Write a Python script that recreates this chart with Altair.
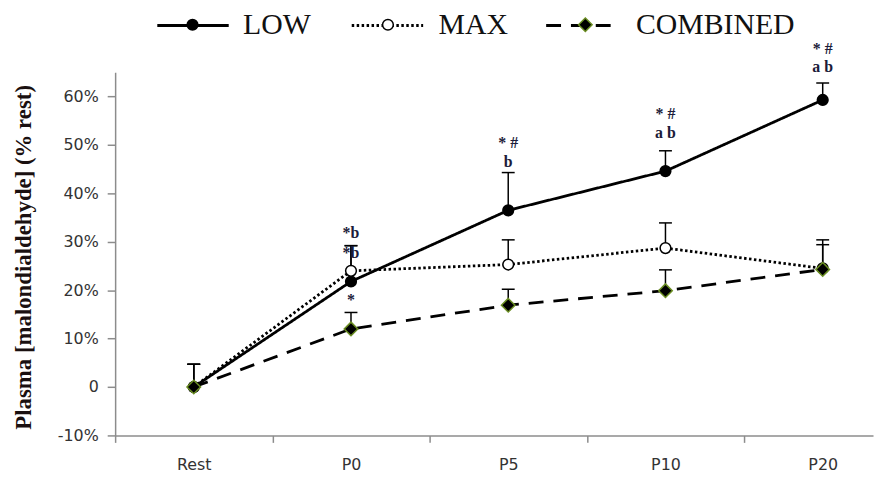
import altair as alt
import pandas as pd

categories = ["Rest", "P0", "P5", "P10", "P20"]
series_names = ["LOW", "MAX", "COMBINED"]

low_values = [0.0, 21.8, 36.5, 44.6, 59.3]
low_errors = [4.7, 7.4, 7.8, 4.2, 3.5]
max_values = [0.0, 24.0, 25.3, 28.7, 24.5]
max_errors = [4.7, 5.2, 5.1, 5.2, 5.9]
combined_values = [0.0, 12.0, 16.9, 19.9, 24.3]
combined_errors = [4.7, 3.4, 3.3, 4.3, 5.1]

y_ticks = [-10, 0, 10, 20, 30, 40, 50, 60]

annotation_cat = ["P0", "P0", "P0", "P5", "P5", "P10", "P10", "P20", "P20"]
annotation_y = [31.9, 27.6, 17.9, 50.5, 46.4, 56.4, 52.4, 69.8, 66.0]
annotation_text = ["*b", "*b", "*", "* #", "b", "* #", "a b", "* #", "a b"]

rows = []
for name, vals, errs in [("LOW", low_values, low_errors),
                         ("MAX", max_values, max_errors),
                         ("COMBINED", combined_values, combined_errors)]:
    for i, c in enumerate(categories):
        rows.append({"idx": i, "cat": c, "series": name, "series2": name,
                     "value": vals[i], "top": vals[i] + errs[i]})
df = pd.DataFrame(rows)

ann = pd.DataFrame({"idx": [categories.index(c) for c in annotation_cat],
                    "value": annotation_y, "text": annotation_text})

cat_js = "[" + ",".join("'" + c + "'" for c in categories) + "]"
x_tick_values = [-0.5, 0, 0.5, 1, 1.5, 2, 2.5, 3, 3.5, 4]

xscale = alt.Scale(domain=[-0.5, 4.32], nice=False, zero=False)
yscale = alt.Scale(domain=[-10, 65], nice=False, zero=False)

axis_col = "#8c8c8c"
xaxis = alt.Axis(values=x_tick_values,
                 labelExpr="datum.value % 1 === 0 ? " + cat_js + "[datum.value] : ''",
                 tickOpacity={"condition": {"test": "datum.value % 1 === 0", "value": 0}, "value": 1},
                 domainColor=axis_col, domainWidth=1.5, tickColor=axis_col, tickWidth=1.5,
                 tickSize=7, labelPadding=14, labelFont="DejaVu Sans", labelFontSize=16,
                 labelColor="#333333", labelFlush=False, labelOverlap=False, grid=False)
yaxis = alt.Axis(values=y_ticks,
                 labelExpr="datum.value === 0 ? '0' : datum.value + '%'",
                 domainColor=axis_col, domainWidth=1.5, tickColor=axis_col, tickWidth=1.5,
                 tickSize=8, labelPadding=9, labelFont="DejaVu Sans", labelFontSize=16,
                 labelColor="#333333", labelFlush=False, labelOverlap=False, grid=False,
                 titleFont="Liberation Serif", titleFontSize=23, titleFontWeight="bold",
                 titleColor="#1a1010", titleX=-92, titleY=186, titleBaseline="middle",
                 titleAngle=270)

X = alt.X("idx:Q", scale=xscale, axis=xaxis, title=None)
Y = alt.Y("value:Q", scale=yscale, axis=yaxis, title="Plasma [malondialdehyde]  (% rest)")

base = alt.Chart(df)

err_rules = base.mark_rule(color="black", strokeWidth=1.5).encode(
    x=X, y=Y, y2="top:Q")
err_caps = base.mark_tick(color="black", orient="horizontal", size=13, thickness=1.5,
                          opacity=1).encode(x=X, y=alt.Y("top:Q"))

legend_common = dict(orient="none", legendX=41, legendY=-85, direction="horizontal",
                     title=None, symbolSize=5184, labelFont="Liberation Serif",
                     labelFontSize=30, padding=0, labelLimit=0)

# line legend: symbols only (no text), evenly spaced to sit under the markers
lines = base.mark_line(color="black", strokeWidth=2.8).encode(
    x=X, y=Y,
    strokeDash=alt.StrokeDash("series:N", sort=series_names,
                              scale=alt.Scale(range=[[1, 0], [2.5, 2.5], [15, 10]]),
                              legend=alt.Legend(symbolType="stroke", symbolStrokeWidth=3,
                                                symbolStrokeColor="black",
                                                labelExpr="''", labelOffset=0,
                                                columnPadding=111, **legend_common)),
    order="idx:Q")

circle_path = "M0.15,0A0.15,0.15,0,1,1,-0.15,0A0.15,0.15,0,1,1,0.15,0Z"
diamond_path = "M0,-0.19L0.19,0L0,0.19L-0.19,0Z"

pt_legend = alt.Legend(symbolStrokeWidth=1.5, labelColor="#111111", labelOffset=14,
                       columnPadding=40, **legend_common)
points = base.mark_point(size=5184, strokeWidth=1.5, opacity=1, fillOpacity=1).encode(
    x=X, y=Y,
    shape=alt.Shape("series2:N", scale=alt.Scale(domain=series_names,
                                                 range=[circle_path, circle_path, diamond_path]),
                    legend=pt_legend),
    fill=alt.Fill("series2:N", scale=alt.Scale(domain=series_names,
                                               range=["black", "white", "black"]),
                  legend=pt_legend),
    stroke=alt.Stroke("series2:N", scale=alt.Scale(domain=series_names,
                                                   range=["black", "black", "#6b8e23"]),
                      legend=pt_legend))

labels = alt.Chart(ann).mark_text(font="Liberation Serif", fontSize=16, fontWeight="bold",
                                  color="#1c1c3a", baseline="middle", align="center").encode(
    x=X, y=alt.Y("value:Q"), text="text:N")

chart = alt.layer(err_rules, err_caps, lines, points, labels).properties(
    width=764, height=366,
    autosize=alt.AutoSizeParams(type="none"),
    padding={"left": 108, "top": 63, "right": 2, "bottom": 36},
    background="white",
).configure_view(strokeWidth=0)

chart.save("out.html", embed_options={"renderer": "svg", "actions": False})
